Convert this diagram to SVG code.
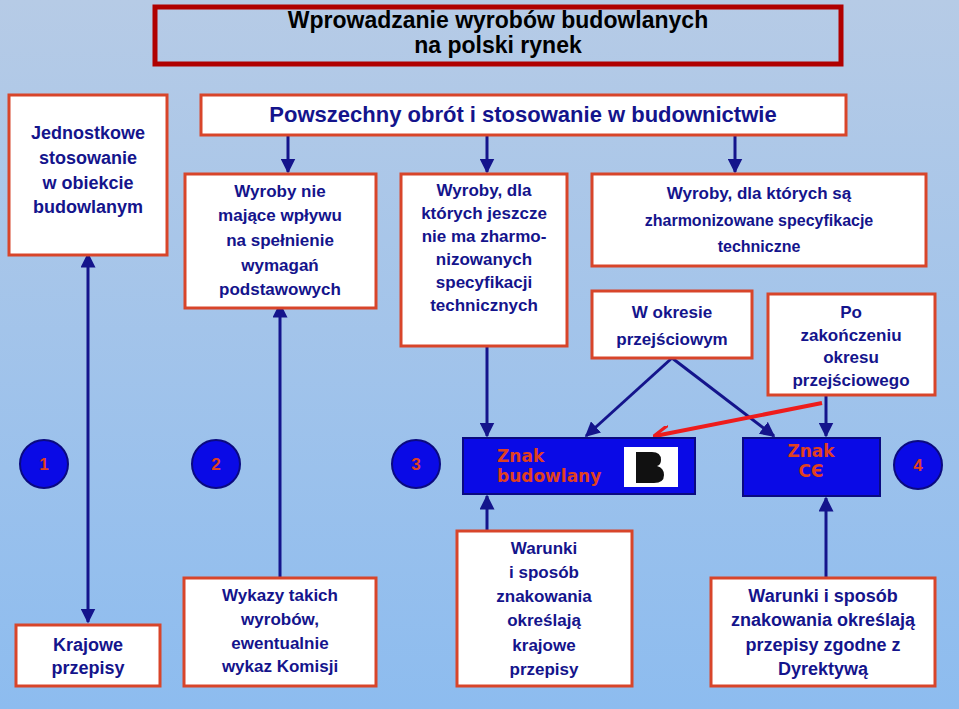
<svg xmlns="http://www.w3.org/2000/svg" width="959" height="709" viewBox="0 0 959 709">
<defs>
<linearGradient id="bg" x1="0" y1="0" x2="0" y2="1"><stop offset="0" stop-color="#b6cbe6"/><stop offset="1" stop-color="#8dbcef"/></linearGradient>
<marker id="ah" viewBox="0 0 10 10" refX="9" refY="5" markerWidth="5" markerHeight="5" orient="auto-start-reverse"><path d="M0,0L10,5L0,10z" fill="#14148c"/></marker>
<marker id="ar" viewBox="0 0 10 10" refX="9" refY="5" markerWidth="4" markerHeight="4" orient="auto"><path d="M0,0L10,5L0,10" fill="none" stroke="#ee1c1c" stroke-width="2"/></marker>
<style>
.b{fill:#fff;stroke:#d8452a;stroke-width:3}
.t{font-family:"Liberation Sans",Arial,sans-serif;font-weight:bold;fill:#14148c;text-anchor:middle}
.c{fill:#0a0ae6;stroke:#0a0a80;stroke-width:2}
.r{font-family:"DejaVu Sans",sans-serif;font-weight:bold;fill:#e04020}
.l{stroke:#14148c;stroke-width:3;fill:none}
</style>
</defs>
<rect width="959" height="709" fill="url(#bg)"/>
<g id="title"><rect x="155" y="7" width="686" height="57" fill="none" stroke="#b00000" stroke-width="5"/>
<text class="t" x="498" y="28" font-size="23" style="fill:#000">Wprowadzanie wyrobów budowlanych</text>
<text class="t" x="498" y="53" font-size="23" style="fill:#000">na polski rynek</text></g>
<g id="connectors">
<line class="l" x1="88" y1="254" x2="88" y2="622" marker-start="url(#ah)" marker-end="url(#ah)"/>
<line class="l" x1="280" y1="304" x2="280" y2="577" marker-start="url(#ah)"/>
<line class="l" x1="288" y1="135" x2="288" y2="172" marker-end="url(#ah)"/>
<line class="l" x1="487" y1="135" x2="487" y2="172" marker-end="url(#ah)"/>
<line class="l" x1="735" y1="135" x2="735" y2="172" marker-end="url(#ah)"/>
<line class="l" x1="487" y1="346" x2="487" y2="436" marker-end="url(#ah)"/>
<line class="l" x1="487" y1="530" x2="487" y2="496" marker-end="url(#ah)"/>
<line class="l" x1="672" y1="358" x2="586" y2="436" marker-end="url(#ah)"/>
<line class="l" x1="672" y1="358" x2="774" y2="436" marker-end="url(#ah)"/>
<line class="l" x1="826" y1="396" x2="826" y2="436" marker-end="url(#ah)"/>
<line class="l" x1="826" y1="577" x2="826" y2="498" marker-end="url(#ah)"/>
<line x1="822" y1="403" x2="655" y2="436" stroke="#ee1c1c" stroke-width="4" marker-end="url(#ar)"/>
</g>
<g id="jednostkowe"><rect class="b" x="9" y="95" width="158" height="160"/>
<text class="t" font-size="18"><tspan x="88" y="139">Jednostkowe</tspan><tspan x="88" y="164">stosowanie</tspan><tspan x="88" y="189">w obiekcie</tspan><tspan x="88" y="213">budowlanym</tspan></text></g>
<g id="powszechny"><rect class="b" x="201" y="95" width="645" height="40"/>
<text class="t" x="523" y="122" font-size="22">Powszechny obrót i stosowanie w budownictwie</text></g>
<g id="w1"><rect class="b" x="185" y="174" width="191" height="134"/>
<text class="t" font-size="17"><tspan x="280" y="197">Wyroby nie</tspan><tspan x="280" y="221">mające wpływu</tspan><tspan x="280" y="246">na spełnienie</tspan><tspan x="280" y="271">wymagań</tspan><tspan x="280" y="295">podstawowych</tspan></text></g>
<g id="w2"><rect class="b" x="401" y="174" width="166" height="172"/>
<text class="t" font-size="17"><tspan x="484" y="196">Wyroby, dla</tspan><tspan x="484" y="219">których jeszcze</tspan><tspan x="484" y="242">nie ma zharmo-</tspan><tspan x="484" y="265">nizowanych</tspan><tspan x="484" y="288">specyfikacji</tspan><tspan x="484" y="311">technicznych</tspan></text></g>
<g id="w3"><rect class="b" x="592" y="174" width="334" height="92"/>
<text class="t" font-size="17"><tspan x="759" y="199">Wyroby, dla których są</tspan><tspan x="759" y="226" font-size="16">zharmonizowane specyfikacje</tspan><tspan x="759" y="252" font-size="16">techniczne</tspan></text></g>
<g id="okres"><rect class="b" x="592" y="291" width="160" height="67"/>
<text class="t" font-size="17"><tspan x="672" y="318">W okresie</tspan><tspan x="672" y="345">przejściowym</tspan></text></g>
<g id="po"><rect class="b" x="768" y="294" width="167" height="101"/>
<text class="t" font-size="17"><tspan x="851" y="318">Po</tspan><tspan x="851" y="341">zakończeniu</tspan><tspan x="851" y="363">okresu</tspan><tspan x="851" y="386">przejściowego</tspan></text></g>
<g id="znakb"><rect class="c" x="463" y="438" width="232" height="56"/>
<text class="r" font-size="17"><tspan x="497" y="462">Znak</tspan><tspan x="497" y="482">budowlany</tspan></text>
<rect x="624" y="447" width="54" height="40" fill="#fff"/>
<path d="M636,452h16q9,0 9,8q0,5-4,6q7,2 7,9q0,8-10,8h-18z" fill="#111"/></g>
<g id="znakce"><rect class="c" x="743" y="438" width="137" height="58"/>
<text class="r" font-size="17" text-anchor="middle"><tspan x="811" y="457">Znak</tspan><tspan x="811" y="477">CЄ</tspan></text></g>
<g id="c1"><circle class="c" cx="44" cy="464" r="24"/><text class="t" x="44" y="470" font-size="17" style="fill:#e04020">1</text></g>
<g id="c2"><circle class="c" cx="216" cy="464" r="24"/><text class="t" x="216" y="470" font-size="17" style="fill:#e04020">2</text></g>
<g id="c3"><circle class="c" cx="416" cy="464" r="24"/><text class="t" x="416" y="470" font-size="17" style="fill:#e04020">3</text></g>
<g id="c4"><circle class="c" cx="918" cy="465" r="24"/><text class="t" x="918" y="471" font-size="17" style="fill:#e04020">4</text></g>
<g id="krajowe"><rect class="b" x="16" y="625" width="144" height="61"/>
<text class="t" font-size="18"><tspan x="88" y="651">Krajowe</tspan><tspan x="88" y="674">przepisy</tspan></text></g>
<g id="wykazy"><rect class="b" x="184" y="578" width="192" height="108"/>
<text class="t" font-size="17"><tspan x="280" y="601">Wykazy takich</tspan><tspan x="280" y="625">wyrobów,</tspan><tspan x="280" y="649">ewentualnie</tspan><tspan x="280" y="672">wykaz Komisji</tspan></text></g>
<g id="warunki1"><rect class="b" x="457" y="531" width="175" height="155"/>
<text class="t" font-size="17"><tspan x="544" y="554">Warunki</tspan><tspan x="544" y="578">i sposób</tspan><tspan x="544" y="602">znakowania</tspan><tspan x="544" y="626">określają</tspan><tspan x="544" y="651">krajowe</tspan><tspan x="544" y="675">przepisy</tspan></text></g>
<g id="warunki2"><rect class="b" x="711" y="578" width="224" height="108"/>
<text class="t" font-size="18"><tspan x="823" y="602">Warunki i sposób</tspan><tspan x="823" y="626">znakowania określają</tspan><tspan x="823" y="651">przepisy zgodne z</tspan><tspan x="823" y="675">Dyrektywą</tspan></text></g>
</svg>
